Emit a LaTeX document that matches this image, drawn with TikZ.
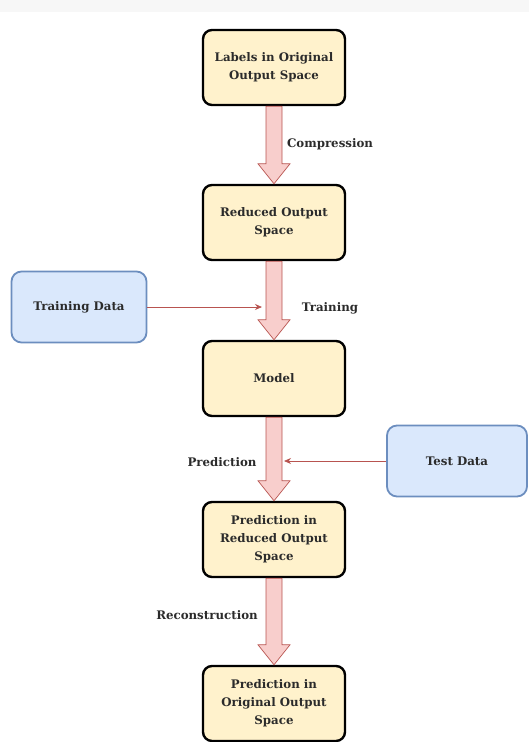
\documentclass[tikz,border=0pt]{standalone}
\usepackage{fontspec}
\setmainfont{DejaVu Serif}
\usepackage{tikz}
\usetikzlibrary{arrows.meta,calc}

\definecolor{stepfill}{HTML}{FFF2CC}
\definecolor{datafill}{HTML}{DAE8FC}
\definecolor{dataline}{HTML}{6C8EBF}
\definecolor{flowfill}{HTML}{F8CECC}
\definecolor{flowline}{HTML}{B85450}
\definecolor{inkcol}{HTML}{2B2B2B}

\begin{document}
\begin{tikzpicture}[x=1pt,y=-1pt,
  txt/.style={font=\bfseries\fontsize{11.8}{18}\selectfont,text=inkcol,align=center},
  stepbox/.style={txt,draw=black,fill=stepfill,line width=2.4pt,rounded corners=9pt,
    minimum width=142pt,minimum height=75pt,inner sep=2pt},
  databox/.style={txt,draw=dataline,fill=datafill,line width=1.8pt,rounded corners=10pt,
    minimum width=135pt,minimum height=71pt},
  lbl/.style={txt},
  feed/.style={draw=flowline,line width=0.8pt,-{Stealth[length=7pt,width=6pt]}},
  bigarrow/.style={draw=flowline,fill=flowfill,line width=0.7pt,line join=miter,
    to path={let \p1=(\tikztostart),\p2=(\tikztotarget) in
      ({\x1-8pt},\y1) -- ({\x1-8pt},{\y2+20pt}) -- ({\x1-16pt},{\y2+20pt}) -- (\x1,\y2)
      -- ({\x1+16pt},{\y2+20pt}) -- ({\x1+8pt},{\y2+20pt}) -- ({\x1+8pt},\y1) -- cycle}}]
  \clip (0,0) rectangle (529,742);
  \fill[black!3] (0,0) rectangle (529,12);

  % main chain
  \node[stepbox] (orig) at (274,67.5) {Labels in Original\\Output Space};
  \node[stepbox] (red) at (274,222.5) {Reduced Output\\Space};
  \node[stepbox] (model) at (274,378.5) {Model};
  \node[stepbox] (predred) at (274,539.5) {Prediction in\\Reduced Output\\Space};
  \node[stepbox] (predorig) at (274,703.5) {Prediction in\\Original Output\\Space};

  % inputs
  \node[databox] (train) at (79,307) {Training Data};
  \node[databox,minimum width=140pt] (test) at (457,461) {Test Data};

  \draw[bigarrow] (orig.south) to (red.north);
  \draw[bigarrow] (red.south) to (model.north);
  \draw[bigarrow] (model.south) to (predred.north);
  \draw[bigarrow] (predred.south) to (predorig.north);

  \node[lbl] (comp) at (330,144) {Compression};
  \node[lbl] (trn) at (330,308) {Training};
  \node[lbl] (pred) at (222,462) {Prediction};
  \node[lbl] (rec) at (207,615) {Reconstruction};

  % data feeds
  \coordinate (trainend) at (262,307);
  \coordinate (testend) at (284,461);
  \draw[feed] (train.east) -- (trainend);
  \draw[feed] (test.west) -- (testend);
\end{tikzpicture}
\end{document}
